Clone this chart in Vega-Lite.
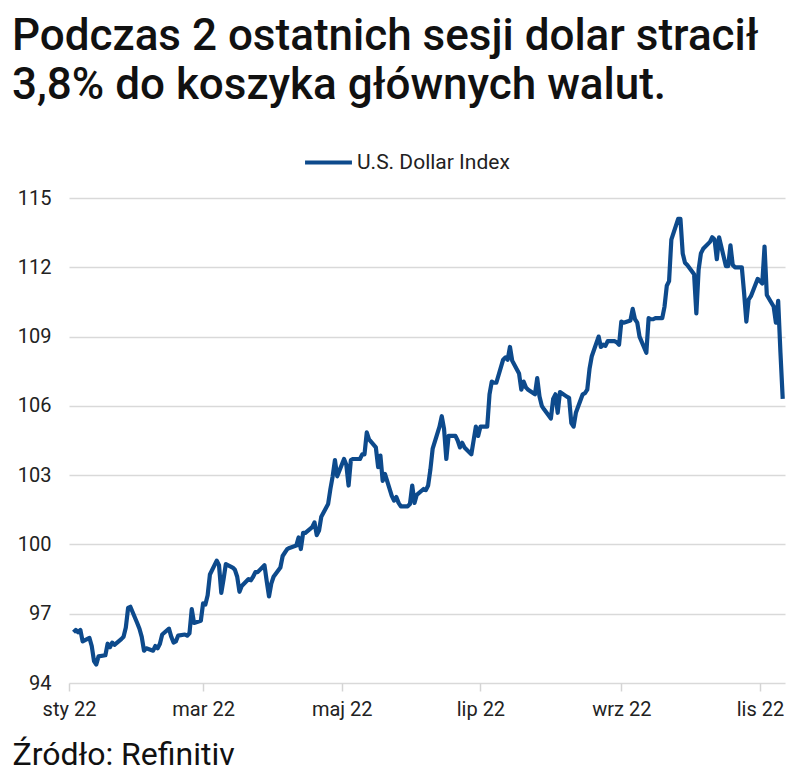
{
  "$schema": "https://vega.github.io/schema/vega-lite/v6.json",
  "width": 716,
  "height": 485,
  "autosize": {"type": "none"},
  "padding": {"left": 69, "top": 198, "right": 15, "bottom": 100},
  "background": "white",
  "title": {
    "text": ["Podczas 2 ostatnich sesji dolar stracił", "3,8% do koszyka głównych walut."],
    "anchor": "start",
    "frame": "group",
    "dx": -57,
    "offset": 29,
    "font": "Roboto",
    "fontSize": 44,
    "fontWeight": 500,
    "color": "#111111",
    "lineHeight": 49
  },
  "data": {
    "values": [
      {"d": "2022-01-03", "v": 96.2}, {"d": "2022-01-04", "v": 96.3}, {"d": "2022-01-05", "v": 96.2}, {"d": "2022-01-06", "v": 96.3}, {"d": "2022-01-07", "v": 95.8},
      {"d": "2022-01-10", "v": 95.95}, {"d": "2022-01-11", "v": 95.6}, {"d": "2022-01-12", "v": 94.95}, {"d": "2022-01-13", "v": 94.8}, {"d": "2022-01-14", "v": 95.15},
      {"d": "2022-01-17", "v": 95.2}, {"d": "2022-01-18", "v": 95.7}, {"d": "2022-01-19", "v": 95.55}, {"d": "2022-01-20", "v": 95.75}, {"d": "2022-01-21", "v": 95.65},
      {"d": "2022-01-24", "v": 95.9}, {"d": "2022-01-25", "v": 96.0}, {"d": "2022-01-26", "v": 96.4}, {"d": "2022-01-27", "v": 97.25}, {"d": "2022-01-28", "v": 97.3},
      {"d": "2022-01-31", "v": 96.6}, {"d": "2022-02-01", "v": 96.35}, {"d": "2022-02-02", "v": 96.0}, {"d": "2022-02-03", "v": 95.4}, {"d": "2022-02-04", "v": 95.5},
      {"d": "2022-02-07", "v": 95.4}, {"d": "2022-02-08", "v": 95.6}, {"d": "2022-02-09", "v": 95.5}, {"d": "2022-02-10", "v": 95.7}, {"d": "2022-02-11", "v": 96.1},
      {"d": "2022-02-14", "v": 96.35}, {"d": "2022-02-15", "v": 96.0}, {"d": "2022-02-16", "v": 95.75}, {"d": "2022-02-17", "v": 95.8}, {"d": "2022-02-18", "v": 96.05},
      {"d": "2022-02-21", "v": 96.1}, {"d": "2022-02-22", "v": 96.05}, {"d": "2022-02-23", "v": 96.15}, {"d": "2022-02-24", "v": 97.2}, {"d": "2022-02-25", "v": 96.6},
      {"d": "2022-02-28", "v": 96.7}, {"d": "2022-03-01", "v": 97.45}, {"d": "2022-03-02", "v": 97.4}, {"d": "2022-03-03", "v": 97.8}, {"d": "2022-03-04", "v": 98.7},
      {"d": "2022-03-07", "v": 99.3}, {"d": "2022-03-08", "v": 99.1}, {"d": "2022-03-09", "v": 97.9}, {"d": "2022-03-10", "v": 98.5}, {"d": "2022-03-11", "v": 99.15},
      {"d": "2022-03-14", "v": 99.0}, {"d": "2022-03-15", "v": 98.9}, {"d": "2022-03-16", "v": 98.6}, {"d": "2022-03-17", "v": 97.95}, {"d": "2022-03-18", "v": 98.2},
      {"d": "2022-03-21", "v": 98.5}, {"d": "2022-03-22", "v": 98.45}, {"d": "2022-03-23", "v": 98.6}, {"d": "2022-03-24", "v": 98.8}, {"d": "2022-03-25", "v": 98.8},
      {"d": "2022-03-28", "v": 99.1}, {"d": "2022-03-29", "v": 98.4}, {"d": "2022-03-30", "v": 97.75}, {"d": "2022-03-31", "v": 98.3}, {"d": "2022-04-01", "v": 98.6},
      {"d": "2022-04-04", "v": 99.0}, {"d": "2022-04-05", "v": 99.5}, {"d": "2022-04-06", "v": 99.65}, {"d": "2022-04-07", "v": 99.8}, {"d": "2022-04-08", "v": 99.85},
      {"d": "2022-04-11", "v": 99.95}, {"d": "2022-04-12", "v": 100.3}, {"d": "2022-04-13", "v": 99.8}, {"d": "2022-04-14", "v": 100.5}, {"d": "2022-04-15", "v": 100.5},
      {"d": "2022-04-18", "v": 100.75}, {"d": "2022-04-19", "v": 100.95}, {"d": "2022-04-20", "v": 100.4}, {"d": "2022-04-21", "v": 100.6}, {"d": "2022-04-22", "v": 101.2},
      {"d": "2022-04-25", "v": 101.75}, {"d": "2022-04-26", "v": 102.4}, {"d": "2022-04-27", "v": 102.95}, {"d": "2022-04-28", "v": 103.65}, {"d": "2022-04-29", "v": 102.95},
      {"d": "2022-05-02", "v": 103.7}, {"d": "2022-05-03", "v": 103.45}, {"d": "2022-05-04", "v": 102.55}, {"d": "2022-05-05", "v": 103.65}, {"d": "2022-05-06", "v": 103.7},
      {"d": "2022-05-09", "v": 103.7}, {"d": "2022-05-10", "v": 103.9}, {"d": "2022-05-11", "v": 103.9}, {"d": "2022-05-12", "v": 104.85}, {"d": "2022-05-13", "v": 104.55},
      {"d": "2022-05-16", "v": 104.2}, {"d": "2022-05-17", "v": 103.35}, {"d": "2022-05-18", "v": 103.85}, {"d": "2022-05-19", "v": 102.75}, {"d": "2022-05-20", "v": 103.05},
      {"d": "2022-05-23", "v": 102.1}, {"d": "2022-05-24", "v": 101.9}, {"d": "2022-05-25", "v": 102.05}, {"d": "2022-05-26", "v": 101.8}, {"d": "2022-05-27", "v": 101.65},
      {"d": "2022-05-30", "v": 101.65}, {"d": "2022-05-31", "v": 101.75}, {"d": "2022-06-01", "v": 102.55}, {"d": "2022-06-02", "v": 101.8}, {"d": "2022-06-03", "v": 102.15},
      {"d": "2022-06-06", "v": 102.4}, {"d": "2022-06-07", "v": 102.35}, {"d": "2022-06-08", "v": 102.55}, {"d": "2022-06-09", "v": 103.25}, {"d": "2022-06-10", "v": 104.15},
      {"d": "2022-06-13", "v": 105.1}, {"d": "2022-06-14", "v": 105.55}, {"d": "2022-06-15", "v": 105.0}, {"d": "2022-06-16", "v": 103.7}, {"d": "2022-06-17", "v": 104.7},
      {"d": "2022-06-20", "v": 104.7}, {"d": "2022-06-21", "v": 104.5}, {"d": "2022-06-22", "v": 104.2}, {"d": "2022-06-23", "v": 104.4}, {"d": "2022-06-24", "v": 104.2},
      {"d": "2022-06-27", "v": 103.9}, {"d": "2022-06-28", "v": 104.5}, {"d": "2022-06-29", "v": 105.1}, {"d": "2022-06-30", "v": 104.7}, {"d": "2022-07-01", "v": 105.1},
      {"d": "2022-07-04", "v": 105.1}, {"d": "2022-07-05", "v": 106.5}, {"d": "2022-07-06", "v": 107.05}, {"d": "2022-07-07", "v": 107.0}, {"d": "2022-07-08", "v": 107.0},
      {"d": "2022-07-11", "v": 108.0}, {"d": "2022-07-12", "v": 108.1}, {"d": "2022-07-13", "v": 108.0}, {"d": "2022-07-14", "v": 108.55}, {"d": "2022-07-15", "v": 107.95},
      {"d": "2022-07-18", "v": 107.4}, {"d": "2022-07-19", "v": 106.7}, {"d": "2022-07-20", "v": 107.05}, {"d": "2022-07-21", "v": 106.8}, {"d": "2022-07-22", "v": 106.7},
      {"d": "2022-07-25", "v": 106.5}, {"d": "2022-07-26", "v": 107.2}, {"d": "2022-07-27", "v": 106.4}, {"d": "2022-07-28", "v": 106.0}, {"d": "2022-07-29", "v": 105.85},
      {"d": "2022-08-01", "v": 105.45}, {"d": "2022-08-02", "v": 106.3}, {"d": "2022-08-03", "v": 106.5}, {"d": "2022-08-04", "v": 105.7}, {"d": "2022-08-05", "v": 106.6},
      {"d": "2022-08-08", "v": 106.4}, {"d": "2022-08-09", "v": 106.35}, {"d": "2022-08-10", "v": 105.25}, {"d": "2022-08-11", "v": 105.1}, {"d": "2022-08-12", "v": 105.7},
      {"d": "2022-08-15", "v": 106.5}, {"d": "2022-08-16", "v": 106.55}, {"d": "2022-08-17", "v": 106.7}, {"d": "2022-08-18", "v": 107.6}, {"d": "2022-08-19", "v": 108.15},
      {"d": "2022-08-22", "v": 109.0}, {"d": "2022-08-23", "v": 108.55}, {"d": "2022-08-24", "v": 108.65}, {"d": "2022-08-25", "v": 108.6}, {"d": "2022-08-26", "v": 108.8},
      {"d": "2022-08-29", "v": 108.8}, {"d": "2022-08-30", "v": 108.75}, {"d": "2022-08-31", "v": 108.65}, {"d": "2022-09-01", "v": 109.65}, {"d": "2022-09-02", "v": 109.6},
      {"d": "2022-09-05", "v": 109.7}, {"d": "2022-09-06", "v": 110.2}, {"d": "2022-09-07", "v": 109.75}, {"d": "2022-09-08", "v": 109.6}, {"d": "2022-09-09", "v": 109.0},
      {"d": "2022-09-12", "v": 108.3}, {"d": "2022-09-13", "v": 109.8}, {"d": "2022-09-14", "v": 109.75}, {"d": "2022-09-15", "v": 109.75}, {"d": "2022-09-16", "v": 109.8},
      {"d": "2022-09-19", "v": 109.8}, {"d": "2022-09-20", "v": 110.3}, {"d": "2022-09-21", "v": 111.2}, {"d": "2022-09-22", "v": 111.4}, {"d": "2022-09-23", "v": 113.2},
      {"d": "2022-09-26", "v": 114.1}, {"d": "2022-09-27", "v": 114.1}, {"d": "2022-09-28", "v": 112.6}, {"d": "2022-09-29", "v": 112.2}, {"d": "2022-09-30", "v": 112.1},
      {"d": "2022-10-03", "v": 111.7}, {"d": "2022-10-04", "v": 110.0}, {"d": "2022-10-05", "v": 111.9}, {"d": "2022-10-06", "v": 112.6}, {"d": "2022-10-07", "v": 112.8},
      {"d": "2022-10-10", "v": 113.1}, {"d": "2022-10-11", "v": 113.3}, {"d": "2022-10-12", "v": 113.2}, {"d": "2022-10-13", "v": 112.35}, {"d": "2022-10-14", "v": 113.3},
      {"d": "2022-10-17", "v": 112.05}, {"d": "2022-10-18", "v": 112.05}, {"d": "2022-10-19", "v": 112.95}, {"d": "2022-10-20", "v": 112.1}, {"d": "2022-10-21", "v": 112.0},
      {"d": "2022-10-24", "v": 112.0}, {"d": "2022-10-25", "v": 110.9}, {"d": "2022-10-26", "v": 109.65}, {"d": "2022-10-27", "v": 110.6}, {"d": "2022-10-28", "v": 110.75},
      {"d": "2022-10-31", "v": 111.5}, {"d": "2022-11-01", "v": 111.4}, {"d": "2022-11-02", "v": 111.3}, {"d": "2022-11-03", "v": 112.9}, {"d": "2022-11-04", "v": 110.8},
      {"d": "2022-11-07", "v": 110.3}, {"d": "2022-11-08", "v": 109.6}, {"d": "2022-11-09", "v": 110.55}, {"d": "2022-11-10", "v": 108.3}, {"d": "2022-11-11", "v": 106.3}
    ]
  },
  "mark": {"type": "line", "strokeWidth": 4.2, "strokeJoin": "round"},
  "encoding": {
    "x": {
      "field": "d",
      "type": "temporal",
      "scale": {
        "type": "utc",
        "domain": [
          {"year": 2022, "month": 1, "date": 1, "utc": true},
          {"year": 2022, "month": 11, "date": 12, "utc": true}
        ]
      },
      "axis": {
        "values": [
          {"year": 2022, "month": 1, "date": 1, "utc": true},
          {"year": 2022, "month": 3, "date": 1, "utc": true},
          {"year": 2022, "month": 5, "date": 1, "utc": true},
          {"year": 2022, "month": 7, "date": 1, "utc": true},
          {"year": 2022, "month": 9, "date": 1, "utc": true},
          {"year": 2022, "month": 11, "date": 1, "utc": true}
        ],
        "labelExpr": "['sty','lut','mar','kwi','maj','cze','lip','sie','wrz','paź','lis','gru'][utcmonth(datum.value)] + ' 22'",
        "grid": false,
        "domain": false,
        "ticks": true,
        "tickColor": "#d4d4d4",
        "tickWidth": 1.5,
        "tickSize": 8,
        "labelFont": "Roboto",
        "labelFontSize": 20,
        "labelColor": "#222222",
        "labelPadding": 8,
        "labelFlush": false,
        "labelBound": false,
        "labelOverlap": false,
        "title": "Źródło: Refinitiv",
        "titleAnchor": "start",
        "titleAlign": "left",
        "titleX": -57,
        "titleY": 81,
        "titleBaseline": "alphabetic",
        "titleFont": "Roboto",
        "titleFontSize": 32,
        "titleFontWeight": "normal",
        "titleColor": "#111111"
      }
    },
    "y": {
      "field": "v",
      "type": "quantitative",
      "scale": {"domain": [94, 115], "nice": false, "zero": false},
      "axis": {
        "values": [94, 97, 100, 103, 106, 109, 112, 115],
        "grid": true,
        "gridColor": "#d9d9d9",
        "gridWidth": 1.5,
        "domain": false,
        "ticks": false,
        "labelFont": "Roboto",
        "labelFontSize": 20,
        "labelColor": "#222222",
        "labelPadding": 18,
        "title": null
      }
    },
    "color": {
      "datum": "U.S. Dollar Index",
      "type": "nominal",
      "scale": {"range": ["#0D4A8C"]},
      "legend": {
        "orient": "none",
        "legendX": 234,
        "legendY": -61,
        "title": null,
        "padding": 0,
        "symbolType": "stroke",
        "symbolSize": 2200,
        "symbolStrokeWidth": 4,
        "labelOffset": 3,
        "labelFont": "Roboto",
        "labelFontSize": 21,
        "labelColor": "#222222"
      }
    }
  },
  "config": {"view": {"stroke": null}}
}
